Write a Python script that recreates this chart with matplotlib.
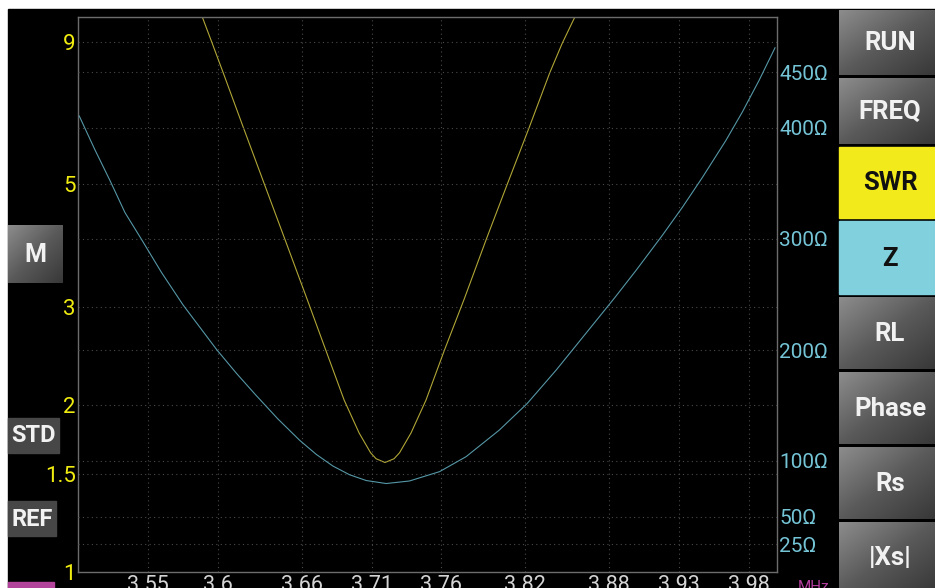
import numpy as np
import matplotlib.pyplot as plt
from matplotlib.colors import LinearSegmentedColormap
from matplotlib.ticker import NullLocator

plt.rcParams['font.family'] = ['Roboto', 'DejaVu Sans']

# SWR sweep (MHz, SWR)
freq_swr = [3.5889, 3.5959, 3.6039, 3.6110, 3.6184, 3.6333, 3.6481, 3.6635,
            3.6770, 3.6904, 3.7011, 3.7093, 3.7132, 3.7196, 3.7261, 3.7300,
            3.7382, 3.7489, 3.7621, 3.7764, 3.7921, 3.8071, 3.8225, 3.8375,
            3.8464, 3.8554]
swr = [10.0, 8.98, 7.93, 7.09, 6.31, 5.00, 3.97, 3.12,
       2.52, 2.04, 1.78, 1.64, 1.60, 1.575, 1.60, 1.64,
       1.78, 2.04, 2.51, 3.11, 3.98, 5.00, 6.30, 7.94,
       8.97, 10.0]

# impedance magnitude sweep (MHz, ohm)
freq_z = [3.5009, 3.5121, 3.5229, 3.5336, 3.5455, 3.5598, 3.5752, 3.5991,
          3.6134, 3.6264, 3.6429, 3.6586, 3.6705, 3.6824, 3.6943, 3.7062,
          3.7205, 3.7371, 3.7586, 3.7776, 3.8014, 3.8214, 3.8421, 3.8836,
          3.8991, 3.9181, 3.9324, 3.9466, 3.9634, 3.9752, 3.9871, 3.9986]
z_ohm = [410.8, 380.4, 352.6, 323.8, 299.5, 269.7, 240.5, 200.5,
         178.9, 160.5, 138.0, 118.6, 105.9, 95.4, 87.6, 82.4,
         79.7, 82.0, 90.4, 103.9, 127.9, 151.9, 182.0, 246.6,
         271.6, 303.5, 328.7, 355.4, 388.7, 414.4, 442.7, 472.3]

x_ticks = [3.55, 3.6, 3.66, 3.71, 3.76, 3.82, 3.88, 3.93, 3.98]
swr_ticks = [1, 1.5, 2, 3, 5, 9]
z_ticks = [25, 50, 100, 200, 300, 400, 450]

# side buttons: label, top, bottom (pixels), style
right_buttons = [("RUN", 10, 75, "gray"), ("FREQ", 78, 144, "gray"),
                 ("SWR", 147, 218, "#f2ea1a"), ("Z", 221, 294, "#80d0de"),
                 ("RL", 297, 369, "gray"), ("Phase", 372, 444, "gray"),
                 ("Rs", 447, 519, "gray"), ("|Xs|", 522, 592, "gray")]

W, H = 935, 588
fig = plt.figure(figsize=(W / 100, H / 100), dpi=100, facecolor='white')

ui = fig.add_axes([0, 0, 1, 1])
ui.set_xlim(0, W)
ui.set_ylim(H, 0)
ui.axis('off')
ui.set_zorder(0)
ui.add_patch(plt.Rectangle((8, 9), W - 8, H - 9, color='black', zorder=0))

grad_cmap = LinearSegmentedColormap.from_list('btn', ['#8c8c8c', '#5a5a5a', '#383838'])
u, v = np.meshgrid(np.linspace(0, 1, 60), np.linspace(0, 1, 60))
grad = (u + v) / 2


def gray_button(x0, x1, y0, y1):
    ui.imshow(grad, cmap=grad_cmap, extent=(x0, x1, y1, y0), aspect='auto',
              interpolation='bilinear', zorder=1)


for label, top, bottom, style in right_buttons:
    if style == "gray":
        gray_button(839, 935, top, bottom)
        tc = '#f2f2f2'
    else:
        ui.add_patch(plt.Rectangle((839, top), 96, bottom - top, color=style, zorder=1))
        tc = '#111111'
    ui.text(890, (top + bottom) / 2 + 1, label, ha='center', va='center',
            fontsize=18.5, fontweight='bold', color=tc, zorder=3)

# left side controls
gray_button(8, 63, 225, 283)
ui.text(35.5, 255, "M", ha='center', va='center', fontsize=18, fontweight='bold',
        color='#f2f2f2', zorder=3)
ui.add_patch(plt.Rectangle((8, 418), 51, 35, color='#474747', zorder=1))
ui.text(33.5, 436, "STD", ha='center', va='center', fontsize=17, fontweight='bold',
        color='#f2f2f2', zorder=3)
ui.add_patch(plt.Rectangle((8, 501), 48, 35, color='#474747', zorder=1))
ui.text(32, 519, "REF", ha='center', va='center', fontsize=17, fontweight='bold',
        color='#f2f2f2', zorder=3)
ui.add_patch(plt.Rectangle((8, 582), 46, 10, color='#b2449c', zorder=1))
ui.text(798, 580, "MHz", ha='left', va='top', fontsize=11, color='#b03c9c', zorder=3)

# main chart
ax = fig.add_axes([78 / W, 16 / H, 699 / W, 555 / H])
ax.set_zorder(1)
ax.set_facecolor('black')
ax.set_xlim(3.5, 4.0)
ax.set_yscale('log')
ax.set_ylim(1, 10)
ax.set_xticks(x_ticks)
ax.set_xticklabels([str(t) for t in x_ticks])
ax.set_yticks(swr_ticks)
ax.set_yticklabels([str(t) for t in swr_ticks])
ax.yaxis.set_minor_locator(NullLocator())
ax.tick_params(axis='x', length=0, pad=2, labelsize=15.5, labelcolor='#d4d4d4')
ax.tick_params(axis='y', length=0, pad=1.5, labelsize=16, labelcolor='#f0ec10')
ax.grid(True, color='#4a4a4a', linestyle=(0, (1, 3)), linewidth=0.8)
ax.set_axisbelow(True)
for s in ax.spines.values():
    s.set_color('#6c6c6c')
    s.set_linewidth(1)

ax.plot(freq_swr, swr, color='#b0a636', linewidth=0.8)

ax2 = ax.twinx()
ax2.set_ylim(0, 500)
ax2.set_yticks(z_ticks)
ax2.set_yticklabels([f"{t}\u03a9" for t in z_ticks])
ax2.tick_params(axis='y', length=0, pad=1.5, labelsize=15, labelcolor='#74c4d6')
ax2.grid(True, axis='y', color='#4a4a4a', linestyle=(0, (1, 3)), linewidth=0.8)
for s in ax2.spines.values():
    s.set_visible(False)
ax2.plot(freq_z, z_ohm, color='#5597a6', linewidth=0.8)

fig.savefig('out.png', dpi=100, facecolor='white')
